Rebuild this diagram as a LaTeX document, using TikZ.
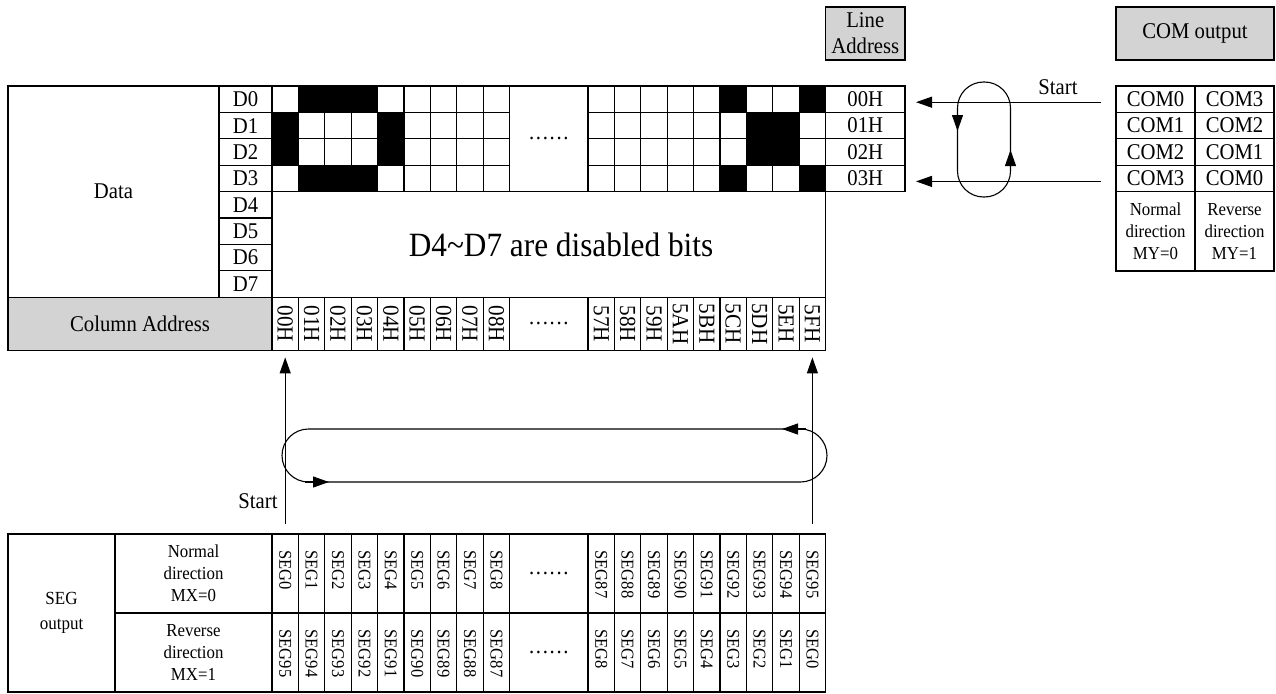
\documentclass[tikz,border=0pt]{standalone}
\usepackage{fontspec}
\setmainfont{Liberation Serif}[FakeStretch=0.92]
\usetikzlibrary{arrows.meta}

\definecolor{hdrgray}{RGB}{211,211,211}
\newcommand{\sixdots}{.\kern1.7pt.\kern1.7pt.\kern1.7pt.\kern1.7pt.\kern1.7pt.}

\begin{document}
\begin{tikzpicture}[x=1pt, y=-1pt, line width=1.1pt,
        box/.style={draw, anchor=north west, inner sep=0pt, outer sep=0pt},
        cell/.style={box, minimum width=26.4pt, minimum height=26.4pt},
        txt/.style={font=\fontsize{22.5}{27}\selectfont, align=center},
        txtsm/.style={font=\fontsize{18.3}{22}\selectfont, align=center},
        vlab/.style={font=\fontsize{23}{24}\selectfont, rotate=-90, inner sep=0pt},
        seglab/.style={font=\fontsize{18}{19}\selectfont, rotate=-90, anchor=west, inner sep=0pt},
        tip/.style={-{Triangle[length=16pt, width=11pt]}}]
    \useasboundingbox (0,0) rectangle (1276,693);

    % Tabela de dados
    \node[box, txt, minimum width=211pt, minimum height=211.2pt] (data) at (8,86) {Data};
    \foreach \row in {0,...,7}
        \node[cell, txt, minimum width=53pt] (d\row) at (219,86+26.4*\row) {D\row};

    % Grade de pixels D0-D3
    \foreach \row in {0,...,3} {
        \foreach \col in {0,...,8} {
            \node[cell] (p\row-\col) at (272+26.4*\col,86+26.4*\row) {};
            \node[cell] (q\row-\col) at (588+26.4*\col,86+26.4*\row) {};
        }
    }
    \foreach \cel in {p0-1,p0-2,p0-3,p1-0,p1-4,p2-0,p2-4,p3-1,p3-2,p3-3,
                      q0-5,q0-8,q1-6,q1-7,q2-6,q2-7,q3-5,q3-8}
        \fill (\cel.north west) rectangle (\cel.south east);
    \node[box, txt, minimum width=78.4pt, minimum height=105.6pt] (gap) at (509.6,86) {\sixdots};

    % Bits desativados
    \node[box, minimum width=553.6pt, minimum height=105.6pt] (off) at (272,191.6) {};
    \node[font=\fontsize{34}{38}\selectfont] (offtxt) at (561,245) {D4\textasciitilde D7 are disabled bits};

    % Enderecos de coluna
    \node[box, txt, fill=hdrgray, minimum width=264pt, minimum height=53.2pt] (coladdr) at (8,297.2) {Column Address};
    \foreach \col in {0,...,8} {
        \node[cell, minimum height=53.2pt] (ca\col) at (272+26.4*\col,297.2) {};
        \node[vlab] at (ca\col) {0\col H};
    }
    \node[box, txt, minimum width=78.4pt, minimum height=53.2pt] (cagap) at (509.6,297.2) {\sixdots};
    \foreach \col/\lab in {0/57H,1/58H,2/59H,3/5AH,4/5BH,5/5CH,6/5DH,7/5EH,8/5FH} {
        \node[cell, minimum height=53.2pt] (cb\col) at (588+26.4*\col,297.2) {};
        \node[vlab] at (cb\col) {\lab};
    }

    % Enderecos de linha
    \node[box, txt, fill=hdrgray, minimum width=79.4pt, minimum height=53pt] (lahdr) at (825.6,7) {Line\\[-1pt]Address};
    \foreach \row in {0,...,3}
        \node[cell, txt, minimum width=79.4pt] (la\row) at (825.6,86+26.4*\row) {0\row H};

    % Saida COM
    \node[box, txt, fill=hdrgray, minimum width=158pt, minimum height=53pt] (comhdr) at (1116,7) {COM output};
    \foreach \row/\na/\nb in {0/0/3,1/1/2,2/2/1,3/3/0} {
        \node[cell, txt, minimum width=79pt] (cn\row) at (1116,86+26.4*\row) {COM\na};
        \node[cell, txt, minimum width=79pt] (cr\row) at (1195,86+26.4*\row) {COM\nb};
    }
    \node[box, txtsm, minimum width=79pt, minimum height=79.4pt] (my0) at (1116,191.6) {Normal\\direction\\MY=0};
    \node[box, txtsm, minimum width=79pt, minimum height=79.4pt] (my1) at (1195,191.6) {Reverse\\direction\\MY=1};

    % Setas COM -> linhas
    \draw[tip, shorten <=15pt, shorten >=11pt] ([yshift=-3pt]cn0.west) -- ([yshift=-3pt]la0.east);
    \draw[tip, shorten <=15pt, shorten >=11pt] ([yshift=-3pt]cn3.west) -- ([yshift=-3pt]la3.east);
    \draw[rounded corners=26pt] (957.5,82) rectangle (1010.5,197);
    \draw[tip] (957.5,112) -- (957.5,131);
    \draw[tip] (1010.5,169) -- (1010.5,150);
    \node[txt] (startr) at (1058,87) {Start};

    % Saida SEG
    \node[box, font=\fontsize{18.5}{25}\selectfont, align=center, minimum width=107pt, minimum height=158pt] (segout) at (8,534) {SEG\\output};
    \node[box, txtsm, minimum width=157pt, minimum height=79pt] (mx0) at (115,534) {Normal\\direction\\MX=0};
    \node[box, txtsm, minimum width=157pt, minimum height=79pt] (mx1) at (115,613) {Reverse\\direction\\MX=1};
    \foreach \col [evaluate=\col as \nr using int(95-\col),
                   evaluate=\col as \na using int(87+\col),
                   evaluate=\col as \nb using int(8-\col)] in {0,...,8} {
        \node[cell, minimum height=79pt] (sn\col) at (272+26.4*\col,534) {};
        \node[cell, minimum height=79pt] (sr\col) at (272+26.4*\col,613) {};
        \node[seglab] at ([yshift=-16pt]sn\col.north) {SEG\col};
        \node[seglab] at ([yshift=-16pt]sr\col.north) {SEG\nr};
        \node[cell, minimum height=79pt] (tn\col) at (588+26.4*\col,534) {};
        \node[cell, minimum height=79pt] (tr\col) at (588+26.4*\col,613) {};
        \node[seglab] at ([yshift=-16pt]tn\col.north) {SEG\na};
        \node[seglab] at ([yshift=-16pt]tr\col.north) {SEG\nb};
    }
    \node[box, txt, minimum width=78.4pt, minimum height=79pt] (sgap0) at (509.6,534) {\sixdots};
    \node[box, txt, minimum width=78.4pt, minimum height=79pt] (sgap1) at (509.6,613) {\sixdots};

    % Setas SEG -> colunas
    \draw[tip, shorten <=10pt, shorten >=7pt] (sn0.north) -- (ca0.south);
    \draw[tip, shorten <=10pt, shorten >=7pt] (tn8.north) -- (cb8.south);
    \draw[rounded corners=26.5pt] (282,429) rectangle (827,482);
    \draw[tip] (305,482) -- (329,482);
    \draw[tip] (806,429) -- (782,429);
    \node[txt] (startb) at (258,501) {Start};
\end{tikzpicture}
\end{document}
